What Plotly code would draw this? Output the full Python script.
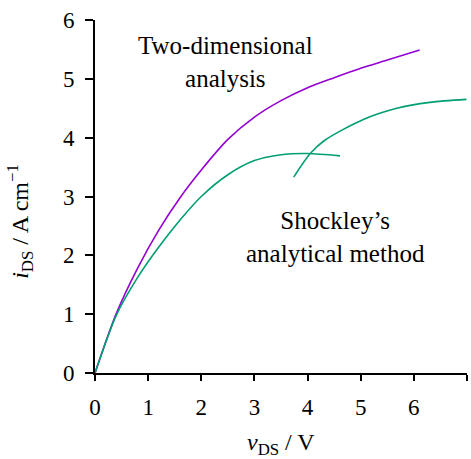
import plotly.graph_objects as go

# Two-dimensional analysis
x_2d = [0, 0.40, 0.80, 1.20, 1.60, 2.00, 2.50, 3.00, 3.50, 4.00, 4.50, 5.00, 5.50, 6.11]
y_2d = [0, 1.01, 1.78, 2.43, 2.98, 3.45, 3.97, 4.35, 4.63, 4.85, 5.02, 5.18, 5.32, 5.49]

# Shockley's analytical method (below pinch-off)
x_sh = [0, 0.40, 0.80, 1.20, 1.60, 2.00, 2.50, 3.00, 3.50, 4.00, 4.61]
y_sh = [0, 0.98, 1.62, 2.14, 2.60, 3.00, 3.37, 3.61, 3.71, 3.73, 3.69]

# Shockley's analytical method (saturation branch)
x_sat = [3.74, 4.05, 4.33, 5.05, 5.68, 6.30, 6.99]
y_sat = [3.33, 3.73, 3.96, 4.31, 4.50, 4.60, 4.65]

x_ticks = [0, 1, 2, 3, 4, 5, 6, 7]
y_ticks = [0, 1, 2, 3, 4, 5, 6]

PURPLE = "#9400D3"
GREEN = "#009E73"
FONT = "Times New Roman"

fig = go.Figure()
for xs, ys, col in [(x_2d, y_2d, PURPLE), (x_sh, y_sh, GREEN), (x_sat, y_sat, GREEN)]:
    fig.add_trace(go.Scatter(x=xs, y=ys, mode="lines", hoverinfo="skip",
                             line=dict(color=col, width=1.6, shape="spline", smoothing=0.8)))

fig.add_annotation(x=2.46, y=5.28, xref="x", yref="y", showarrow=False,
                   text="Two-dimensional<br>analysis",
                   font=dict(family=FONT, size=25, color="black"))
fig.add_annotation(x=4.53, y=2.31, xref="x", yref="y", showarrow=False,
                   text="Shockley’s<br>analytical method",
                   font=dict(family=FONT, size=25, color="black"))

# axis titles
fig.add_annotation(x=0.5, y=-0.2, xref="paper", yref="paper", showarrow=False,
                   text="<i>v</i><sub>DS</sub> / V", yanchor="middle",
                   font=dict(family=FONT, size=24, color="black"))
fig.add_annotation(x=-0.2, y=0.43, xref="paper", yref="paper", showarrow=False,
                   text="<i>i</i><sub>DS</sub> / A cm<sup>−1</sup>", textangle=-90,
                   xanchor="center", yanchor="middle",
                   font=dict(family=FONT, size=24, color="black"))

fig.update_layout(
    width=471, height=459,
    margin=dict(l=95, r=4, t=20, b=86, autoexpand=False),
    plot_bgcolor="white", paper_bgcolor="white",
    showlegend=False,
    font=dict(family=FONT, size=22, color="black"),
)
fig.update_xaxes(range=[0, 7], tickvals=x_ticks, ticktext=[str(v) for v in x_ticks],
                 showgrid=False, zeroline=False, showline=True, linecolor="black", linewidth=2,
                 ticks="outside", ticklen=6, tickwidth=1.5, tickcolor="black",
                 ticklabelstandoff=6, tickfont=dict(family=FONT, size=23, color="black"))
fig.update_yaxes(range=[0, 6], tickvals=y_ticks, ticktext=[str(v) for v in y_ticks],
                 showgrid=False, zeroline=False, showline=True, linecolor="black", linewidth=2,
                 ticks="outside", ticklen=8, tickwidth=1.5, tickcolor="black",
                 ticklabelstandoff=6, tickfont=dict(family=FONT, size=23, color="black"))

fig.write_html("out.html")
